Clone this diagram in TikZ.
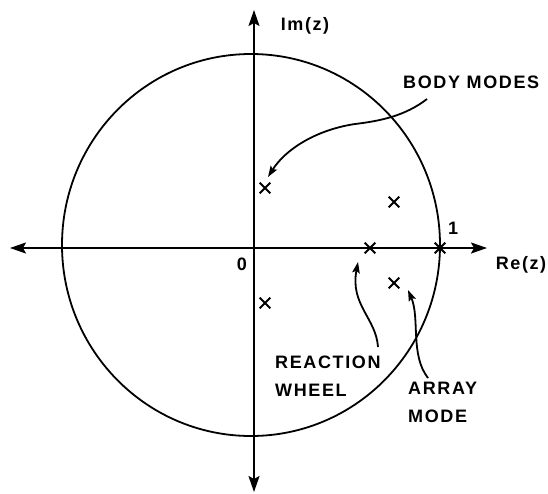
\documentclass[tikz,border=0pt]{standalone}
\usepackage{fontspec}
\usepackage{tikz}
\usetikzlibrary{
  arrows.meta,
  shapes.misc,
  positioning
}
\newfontfamily\lblfont[LetterSpace=9, UprightFont=* Bold]{Liberation Sans}
\tikzset{
  axis/.style={{Stealth[length=16pt, width=11pt, inset=3pt]}-{Stealth[length=16pt, width=11pt, inset=3pt]}, line width=1.9pt},
  pole/.style={cross out, draw, line width=2.1pt, minimum size=8.5pt, inner sep=0pt},
  lbl/.style={font=\lblfont\fontsize{18}{28}\selectfont, inner sep=0pt, align=left},
  note/.style={-{Stealth[length=11pt, width=7.5pt, inset=2pt]}, line width=1.8pt},
}

\begin{document}
\begin{tikzpicture}[x=1pt, y=-1pt]

\useasboundingbox[fill=white] (0,0) rectangle (548,493);

% Axes
\coordinate (o) at (254,248);
\coordinate (xl) at (10,248);
\coordinate (xr) at (487,248);
\coordinate (yt) at (254,10);
\coordinate (yb) at (254,492);
\draw[axis] (xl) -- (xr);
\draw[axis] (yt) -- (yb);

% Unit circle
\coordinate (c) at (251,245);
\draw[line width=1.8pt] (c) ellipse [x radius=189, y radius=191];

% Poles
\node[pole] (bm1) at (265,188) {};
\node[pole] (bm2) at (265,303) {};
\node[pole] (am1) at (394,202) {};
\node[pole] (am2) at (394,283) {};
\node[pole] (rw) at (370,248) {};
\node[pole] (one) at (440,248) {};

% Labels
\node[lbl] (im) at (305,26) {Im(z)};
\node[lbl] (re) at (521,265) {Re(z)};
\node[lbl] (lone) at (453,228) {1};
\node[lbl] (lzero) at (242,264) {0};
\node[lbl, anchor=west] (body) at (403,82) {BODY MODES};
\node[lbl, anchor=north west] (react) at (275,356) {REACTION\\WHEEL};
\node[lbl, anchor=north west] (array) at (408,381.5) {ARRAY\\MODE};

% Pointers
\coordinate (bmtail) at (427,99);
\coordinate (bmtip) at (268,177);
\coordinate (rwtail) at (378,347);
\coordinate (rwtip) at (358,262);
\coordinate (amtail) at (428,378);
\coordinate (amtip) at (408,290);
\draw[note] (bmtail) .. controls (405,116) and (380,121) .. (355,124) .. controls (315,130) and (285,150) .. (bmtip);
\draw[note] (rwtail) .. controls (376,318) and (350,305) .. (rwtip);
\draw[note] (amtail) .. controls (410,355) and (420,318) .. (amtip);

\end{tikzpicture}
\end{document}
